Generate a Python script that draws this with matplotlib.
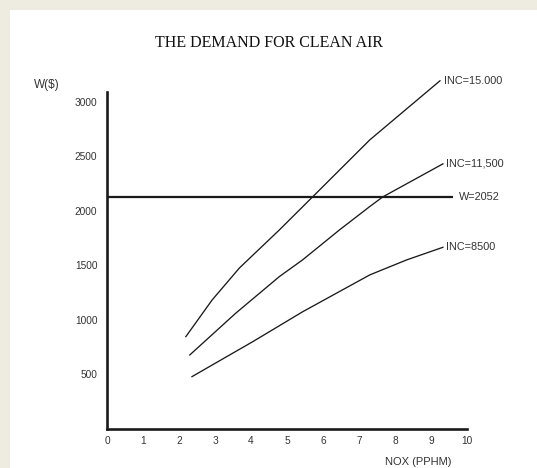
import matplotlib
matplotlib.use("Agg")
import matplotlib.pyplot as plt
from matplotlib.patches import Rectangle

# values
nox_15000 = [2.19, 2.92, 3.68, 4.79, 5.71, 7.30, 9.25]
w_15000 = [847, 1183, 1477, 1826, 2128, 2651, 3193]
nox_11500 = [2.30, 3.58, 4.79, 5.43, 6.46, 7.30, 7.66, 9.33]
w_11500 = [679, 1063, 1398, 1550, 1826, 2040, 2128, 2431]
nox_8500 = [2.36, 4.05, 5.44, 7.30, 8.32, 9.33]
w_8500 = [480, 801, 1076, 1413, 1550, 1666]
w_line = 2128
w_line_end = 9.6
curve_labels = ["INC=15.000", "INC=11,500", "INC=8500"]
w_label = "W=2052"
xticks = list(range(0, 11))
yticks = [500, 1000, 1500, 2000, 2500, 3000]

plt.rcParams["font.family"] = ["Liberation Sans", "DejaVu Sans"]

fig = plt.figure(figsize=(5.37, 4.68), dpi=100)
fig.patch.set_facecolor("#eeebe1")
fig.patches.append(Rectangle((10 / 537, 0), 1, 1 - 10 / 468,
                             transform=fig.transFigure, facecolor="white",
                             edgecolor="none", zorder=-5))

ax = fig.add_axes([107 / 537, 39 / 468, 360 / 537, 337 / 468])
ax.set_zorder(2)
ax.set_facecolor("none")
ax.set_xlim(0, 10)
ax.set_ylim(0, 3090)

ink = "#1a1a1a"
grey = "#333333"
for xs, ys, lab in zip([nox_15000, nox_11500, nox_8500],
                       [w_15000, w_11500, w_8500], curve_labels):
    ax.plot(xs, ys, color=ink, lw=0.95, clip_on=False)
    ax.text(xs[-1] + 0.1, ys[-1], lab, fontsize=7.8, color=grey,
            va="center", ha="left", clip_on=False)

ax.plot([0, w_line_end], [w_line, w_line], color=ink, lw=1.6,
        solid_capstyle="butt", clip_on=False)
ax.text(w_line_end + 0.17, w_line, w_label, fontsize=7.8, color=grey,
        va="center", ha="left")

for s in ["top", "right"]:
    ax.spines[s].set_visible(False)
for s in ["left", "bottom"]:
    ax.spines[s].set_linewidth(1.9)
    ax.spines[s].set_color(ink)

ax.set_xticks(xticks)
ax.set_yticks(yticks)
ax.tick_params(length=0, labelsize=7.3, labelcolor=grey)
ax.tick_params(axis="y", pad=7)
ax.tick_params(axis="x", pad=5)

fig.text(269 / 537, 1 - 43 / 468, "THE DEMAND FOR CLEAN AIR",
         family=["Liberation Serif", "DejaVu Serif"], fontsize=11.5,
         ha="center", va="center", color="#111111")
fig.text(34 / 537, 1 - 85 / 468, "W($)", fontsize=8.5, color=grey,
         ha="left", va="center")
fig.text(418 / 537, 1 - 462 / 468, "NOX (PPHM)", fontsize=8,
         color=grey, ha="center", va="center")

fig.savefig("out.png", dpi=100, facecolor=fig.get_facecolor())
